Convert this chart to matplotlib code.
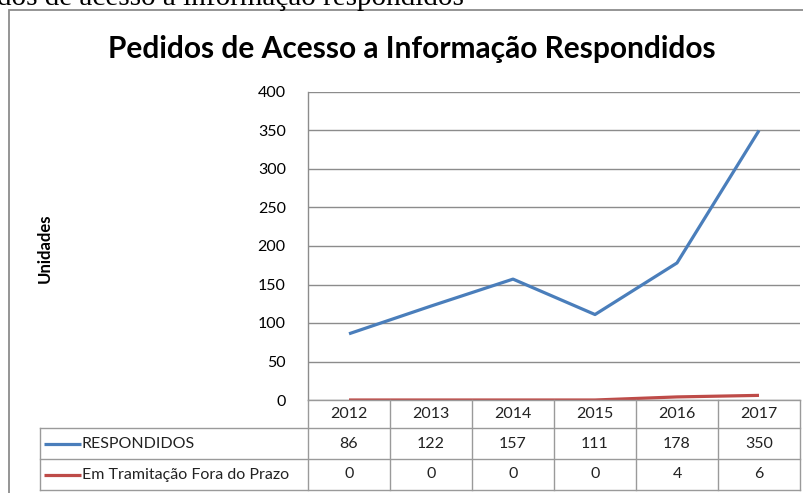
import matplotlib
matplotlib.use("Agg")
import matplotlib.pyplot as plt
from matplotlib.lines import Line2D
from matplotlib.patches import Rectangle
from matplotlib.transforms import blended_transform_factory

years = ["2012", "2013", "2014", "2015", "2016", "2017"]
series_names = ["RESPONDIDOS", "Em Tramitação Fora do Prazo"]
respondidos = [86, 122, 157, 111, 178, 350]
fora_prazo = [0, 0, 0, 0, 4, 6]
series_values = [respondidos, fora_prazo]
series_colors = ["#4A7EBB", "#BE4B48"]
yticks = [0, 50, 100, 150, 200, 250, 300, 350, 400]
title = "Pedidos de Acesso a Informação Respondidos"
ylabel = "Unidades"
caption = "dos de acesso a informação respondidos"

W, H = 804, 493
fig = plt.figure(figsize=(W / 100, H / 100), dpi=100)
FONT = "Lato"

def fx(px):
    return px / W

def fy(py):
    return 1 - py / H

# outer chart frame
fig.add_artist(Rectangle((fx(9), fy(500)), fx(810) - fx(9), fy(10) - fy(500),
                         transform=fig.transFigure, fill=False,
                         edgecolor="#8c8c8c", linewidth=1.3))

# caption text (partly cut at the top, as in the source page)
fig.text(fx(-3), fy(5), caption, family="Liberation Serif", fontsize=21,
         va="baseline", ha="left", color="black")

# title
fig.text(fx(412), fy(58), title, family=FONT, fontsize=21.5, fontweight="bold",
         ha="center", va="baseline")

left, right, top, bottom = 308, 800, 92, 400
ax = fig.add_axes([fx(left), fy(bottom), fx(right) - fx(left), fy(top) - fy(bottom)])
x = list(range(len(years)))
for vals, col in zip(series_values, series_colors):
    ax.plot(x, vals, color=col, linewidth=2.3, solid_capstyle="butt", zorder=3)
ax.set_xlim(-0.5, len(years) - 0.5)
ax.set_ylim(0, 400)
ax.set_yticks(yticks)
ax.set_yticklabels([str(t) for t in yticks], family=FONT, fontsize=11.5)
ax.tick_params(axis="y", length=0, pad=16)
ax.set_xticks([])
ax.grid(axis="y", color="#8c8c8c", linewidth=1.0)
for s in ["top", "right", "bottom"]:
    ax.spines[s].set_visible(False)
ax.spines["left"].set_color("#8c8c8c")
ax.spines["left"].set_linewidth(1.0)

fig.text(fx(45), fy(248), ylabel, family=FONT, fontsize=12, fontweight="bold",
         rotation=90, ha="center", va="center")

# data table
tr = blended_transform_factory(ax.transData, fig.transFigure)
gc = "#9a9a9a"
row_edges = [400, 428, 459, 490]
label_left = 40
fig.add_artist(Line2D([fx(left), fx(right)], [fy(400), fy(400)], transform=fig.transFigure, color=gc, lw=1))
for yy in row_edges[1:]:
    fig.add_artist(Line2D([fx(label_left), fx(right)], [fy(yy), fy(yy)], transform=fig.transFigure, color=gc, lw=1))
for i in range(len(years) + 1):
    xe = i - 0.5
    fig.add_artist(Line2D([xe, xe], [fy(400), fy(490)], transform=tr, color=gc, lw=1))
fig.add_artist(Line2D([fx(label_left), fx(label_left)], [fy(428), fy(490)], transform=fig.transFigure, color=gc, lw=1))

tfs = 11.5
for i, yr in enumerate(years):
    fig.text(i, fy(414), yr, transform=tr, ha="center", va="center", family=FONT, fontsize=tfs, color="#222222")
for r, (name, vals, col) in enumerate(zip(series_names, series_values, series_colors)):
    yc = (row_edges[r + 1] + row_edges[r + 2]) / 2
    fig.add_artist(Line2D([fx(44), fx(81)], [fy(yc), fy(yc)], transform=fig.transFigure,
                          color=col, lw=2.3, solid_capstyle="butt"))
    fig.text(fx(82), fy(yc), name, ha="left", va="center", family=FONT, fontsize=tfs, color="#222222")
    for i, v in enumerate(vals):
        fig.text(i, fy(yc), str(v), transform=tr, ha="center", va="center", family=FONT, fontsize=tfs, color="#222222")

fig.savefig("out.png", dpi=100)
